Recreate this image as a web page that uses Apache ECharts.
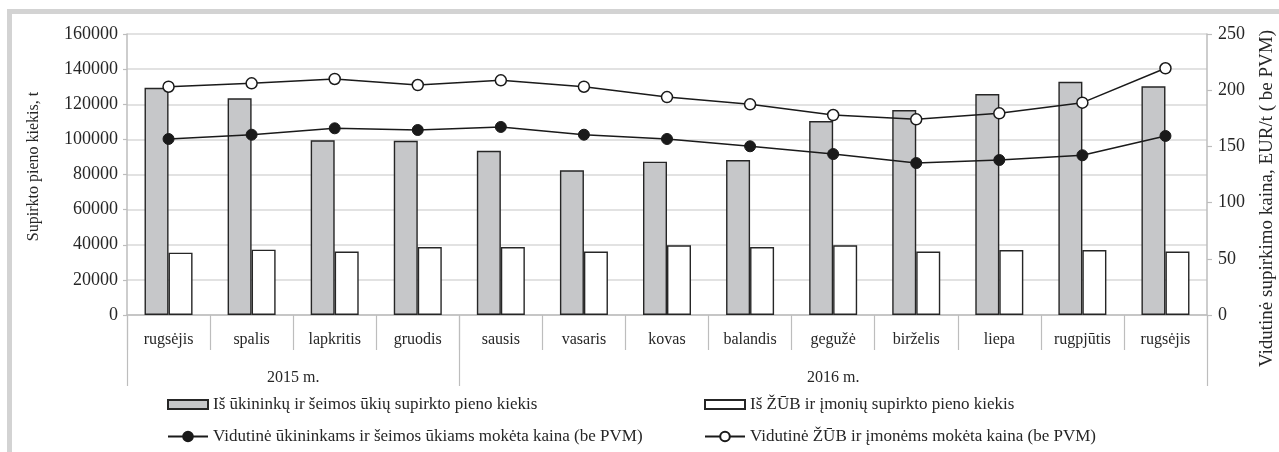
<!DOCTYPE html>
<html>
<head>
<meta charset="utf-8">
<script src="https://cdn.jsdelivr.net/npm/echarts@6/dist/echarts.min.js"></script>
<style>
html,body{margin:0;padding:0;background:#fff;}
#frame{position:absolute;left:7px;top:9px;width:1300px;height:500px;border-left:5px solid #d3d3d3;border-top:5px solid #d3d3d3;box-sizing:border-box;}
#chart{position:absolute;left:0;top:0;width:1279px;height:452px;}
</style>
</head>
<body>
<div id="frame"></div>
<div id="chart"></div>
<script>
const months = ['rugsėjis','spalis','lapkritis','gruodis','sausis','vasaris','kovas','balandis','gegužė','birželis','liepa','rugpjūtis','rugsėjis'];
const years = ['2015 m.','2016 m.'];
const yearSpans = [4, 9];
const farmQty = [129400,123400,99500,99200,93500,82400,87300,88200,110400,116700,125800,132800,130200];
const companyQty = [35500,37200,36100,38700,38700,36100,39700,38700,39700,36100,37000,37000,36100];
const farmPrice = [156.6,160.4,166.1,164.6,167.3,160.4,156.6,150.1,143.2,135.2,137.9,142.1,159.3];
const companyPrice = [203.1,206.1,210.0,204.6,208.8,203.1,193.9,187.4,177.9,174.1,179.4,188.9,219.5];
const leftTicks = {min:0, max:160000, interval:20000};
const rightTicks = {min:0, max:250, interval:50};
const names = [
  'Iš ūkininkų ir šeimos ūkių supirkto pieno kiekis',
  'Iš ŽŪB ir įmonių supirkto pieno kiekis',
  'Vidutinė ūkininkams ir šeimos ūkiams mokėta kaina (be PVM)',
  'Vidutinė ŽŪB ir įmonėms mokėta kaina (be PVM)'
];
const leftName = 'Supirkto pieno kiekis, t';
const rightName = 'Vidutinė supirkimo kaina, EUR/t ( be PVM)';

// year axis on half-month points
const n2 = months.length * 2 + 1;
const yearAxisData = new Array(n2).fill('');
const yearBounds = [0];
let acc = 0;
yearSpans.forEach((s, i) => {
  yearAxisData[acc * 2 + s] = years[i];
  acc += s;
  yearBounds.push(acc * 2);
});

const FONT = 'Liberation Serif';
const TXT = '#262626';
const AX = '#bdbdbd';

const chart = echarts.init(document.getElementById('chart'));
const legendBase = {
  orient:'horizontal', itemWidth:40, itemGap:0, padding:0,
  textStyle:{fontFamily:FONT, fontSize:17, color:TXT},
  selectedMode:false
};
chart.setOption({
  animation:false,
  grid:{left:127, right:72, top:34, bottom:137, containLabel:false, outerBoundsMode:'none'},
  xAxis:[
    {type:'category', data:months, boundaryGap:true, position:'bottom',
     axisLine:{lineStyle:{color:AX, width:1.5}},
     axisTick:{show:true, length:35, lineStyle:{color:AX, width:1.2}},
     axisLabel:{fontFamily:FONT, fontSize:16, color:TXT, margin:17, interval:0}},
    {type:'category', data:yearAxisData, boundaryGap:false, position:'bottom',
     axisLine:{show:false},
     axisTick:{show:true, length:71, interval:(i)=>yearBounds.indexOf(i)>=0, lineStyle:{color:AX, width:1.2}},
     axisLabel:{fontFamily:FONT, fontSize:16, color:TXT, margin:55, interval:(i,v)=>v!==''}}
  ],
  yAxis:[
    {type:'value', min:leftTicks.min, max:leftTicks.max, interval:leftTicks.interval, position:'left',
     name:leftName, nameLocation:'middle', nameGap:85,
     nameTextStyle:{fontFamily:FONT, fontSize:16, color:TXT, padding:[0,0,0,16]},
     axisLine:{show:true, lineStyle:{color:AX, width:1.5}},
     axisTick:{show:true, inside:false, length:4, lineStyle:{color:AX, width:1.2}},
     axisLabel:{fontFamily:FONT, fontSize:18, color:TXT, margin:9, formatter:(v)=>String(v)},
     splitLine:{lineStyle:{color:'#d9d9d9', width:1.5}}},
    {type:'value', min:rightTicks.min, max:rightTicks.max, interval:rightTicks.interval, position:'right',
     name:rightName, nameLocation:'middle', nameGap:51,
     nameTextStyle:{fontFamily:FONT, fontSize:19, color:TXT, padding:[0,48,0,0]},
     axisLine:{show:true, lineStyle:{color:AX, width:1.5}},
     axisTick:{show:true, inside:false, length:5, lineStyle:{color:AX, width:1.2}},
     axisLabel:{fontFamily:FONT, fontSize:18, color:TXT, margin:11, formatter:(v)=>String(v)},
     splitLine:{show:false}}
  ],
  legend:[
    Object.assign({}, legendBase, {data:[{name:names[0], icon:'rect'}], left:167, top:396, itemHeight:9}),
    Object.assign({}, legendBase, {data:[{name:names[1], icon:'rect'}], left:704, top:396, itemHeight:9}),
    Object.assign({}, legendBase, {data:[names[2]], left:167, top:428, itemHeight:12}),
    Object.assign({}, legendBase, {data:[names[3]], left:704, top:428, itemHeight:12})
  ],
  series:[
    {name:names[0], type:'bar', xAxisIndex:0, yAxisIndex:0, data:farmQty, barWidth:24, barGap:'0%',
     itemStyle:{color:'#c6c7c9', borderColor:'#262626', borderWidth:1.4}},
    {name:names[1], type:'bar', xAxisIndex:0, yAxisIndex:0, data:companyQty, barWidth:24, barGap:'0%',
     itemStyle:{color:'#ffffff', borderColor:'#262626', borderWidth:1.4}},
    {name:names[2], type:'line', xAxisIndex:0, yAxisIndex:1, data:farmPrice, symbol:'circle', symbolSize:11,
     lineStyle:{color:'#1a1a1a', width:1.5}, itemStyle:{color:'#1a1a1a', borderColor:'#1a1a1a', borderWidth:1}, z:5},
    {name:names[3], type:'line', xAxisIndex:0, yAxisIndex:1, data:companyPrice, symbol:'circle', symbolSize:11,
     lineStyle:{color:'#1a1a1a', width:1.5}, itemStyle:{color:'#ffffff', borderColor:'#1a1a1a', borderWidth:1.5}, z:5}
  ]
});
</script>
</body>
</html>
